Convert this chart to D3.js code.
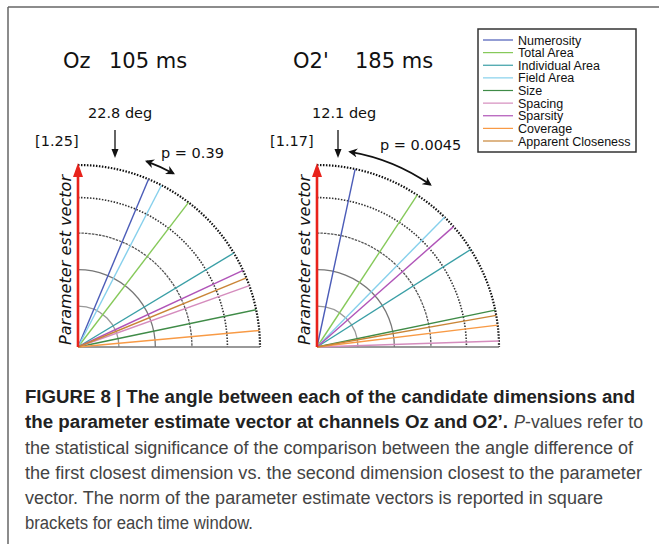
<!DOCTYPE html>
<html>
<head>
<meta charset="utf-8">
<script src="https://cdn.jsdelivr.net/npm/d3@7"></script>
<style>
  body { margin: 0; background: #fff; }
  svg { display: block; }
</style>
</head>
<body>
<svg id="chart" width="659" height="544"></svg>
<script>
// candidate dimensions, same order as the legend
var dimensions = ["Numerosity", "Total Area", "Individual Area", "Field Area", "Size",
  "Spacing", "Sparsity", "Coverage", "Apparent Closeness"];
var dimColors = ["#4b5cb8", "#86c95a", "#3a9fa6", "#86d0ec", "#3f8b47",
  "#d58cbd", "#b054b8", "#f89a45", "#c98537"];

// angle (deg) of each dimension from the parameter estimate vector
var ozAngles = [22.8, 37.4, 58.9, 27.3, 78.2, 70.3, 65.1, 84.8, 67.7];
var o2Angles = [12.1, 33.4, 57.6, 44.5, 78.3, 88.1, 48.6, 83.1, 80.0];

var channels = ["Oz", "O2'"];
var times = ["105 ms", "185 ms"];
var norms = ["[1.25]", "[1.17]"];
var pValues = ["p = 0.39", "p = 0.0045"];
var closest = ["22.8 deg", "12.1 deg"];

// rings of the quarter grid (share of the vector norm)
var rings = [0.225, 0.425, 0.626, 0.821, 1.0];

var captionLines = [
  "FIGURE 8 | The angle between each of the candidate dimensions and",
  "the parameter estimate vector at channels Oz and O2\u2019.",
  "-values refer to",
  "the statistical significance of the comparison between the angle difference of",
  "the first closest dimension vs. the second dimension closest to the parameter",
  "vector. The norm of the parameter estimate vectors is reported in square",
  "brackets for each time window."
];

var svg = d3.select("#chart");
var R = 182;
var deg = d3.scaleLinear().domain([0, 90]).range([0, Math.PI / 2]);
var rad = d3.scaleLinear().domain([0, 1]).range([0, R]);

// frame
svg.append("line").attr("x1", 8).attr("x2", 659).attr("y1", 7).attr("y2", 7)
  .attr("stroke", "#666").attr("stroke-width", 1.5);
svg.append("line").attr("x1", 8).attr("x2", 8).attr("y1", 7).attr("y2", 544)
  .attr("stroke", "#666").attr("stroke-width", 1.5);

var defs = svg.append("defs");
defs.append("marker").attr("id", "head")
  .attr("viewBox", "0 0 10 10").attr("refX", 8).attr("refY", 5)
  .attr("markerWidth", 9).attr("markerHeight", 9)
  .attr("markerUnits", "userSpaceOnUse")
  .attr("orient", "auto-start-reverse")
  .append("path").attr("d", "M0,0 L10,5 L0,10 L3,5 z").attr("fill", "#111");

function quarter(r) {
  var p = d3.path();
  p.arc(0, 0, r, -Math.PI / 2, 0, false);
  return p.toString();
}

var ringStyle = [
  { c: "#999", w: 1.3, d: null },
  { c: "#777", w: 1.3, d: null },
  { c: "#555", w: 1.3, d: "2.5,1" },
  { c: "#333", w: 1.6, d: "1.5,1.5" },
  { c: "#111", w: 2.2, d: "1.5,1.5" }
];

var panels = [
  { ox: 78, angles: ozAngles, title: [63, 109], arrowX: 37, pPos: [161, 158], degX: 88, normX: 35 },
  { ox: 317, angles: o2Angles, title: [293, 355], arrowX: 21, pPos: [380, 150], degX: 312, normX: 270 }
];
var oy = 347;

panels.forEach(function (pn, k) {
  var g = svg.append("g").attr("transform", "translate(" + pn.ox + "," + oy + ")");

  // title
  svg.append("text").attr("x", pn.title[0]).attr("y", 68)
    .attr("font-family", "DejaVu Sans").attr("font-size", 21).attr("fill", "#111")
    .text(channels[k]);
  svg.append("text").attr("x", pn.title[1]).attr("y", 68)
    .attr("font-family", "DejaVu Sans").attr("font-size", 21).attr("fill", "#111")
    .text(times[k]);

  // rings
  g.selectAll("path.ring").data(rings).enter().append("path")
    .attr("class", "ring")
    .attr("d", function (d) { return quarter(rad(d)); })
    .attr("fill", "none")
    .attr("stroke", function (d, i) { return ringStyle[i].c; })
    .attr("stroke-width", function (d, i) { return ringStyle[i].w; })
    .attr("stroke-dasharray", function (d, i) { return ringStyle[i].d; });

  // base line
  g.append("line").attr("x1", 0).attr("y1", 0).attr("x2", R).attr("y2", 0)
    .attr("stroke", "#777").attr("stroke-width", 1.6);

  // dimension lines
  g.selectAll("line.dim").data(pn.angles).enter().append("line")
    .attr("class", "dim")
    .attr("x1", 0).attr("y1", 0)
    .attr("x2", function (d) { return d3.pointRadial(deg(d), R)[0]; })
    .attr("y2", function (d) { return d3.pointRadial(deg(d), R)[1]; })
    .attr("stroke", function (d, i) { return dimColors[i]; })
    .attr("stroke-width", 1.4);

  // parameter estimate vector (red arrow)
  g.append("line").attr("x1", 0).attr("y1", 0).attr("x2", 0).attr("y2", -R + 10)
    .attr("stroke", "#e8231c").attr("stroke-width", 2.6);
  g.append("path")
    .attr("d", "M0," + (-R - 2) + " L-5," + (-R + 12) + " L5," + (-R + 12) + " z")
    .attr("fill", "#e8231c");

  svg.append("text")
    .attr("transform", "translate(" + (pn.ox - 7) + "," + (oy - 2) + ") rotate(-90)")
    .attr("font-family", "DejaVu Sans").attr("font-style", "italic")
    .attr("font-size", 16).attr("fill", "#111")
    .attr("textLength", 170).attr("lengthAdjust", "spacingAndGlyphs")
    .text("Parameter est vector");

  // norm, angle, p-value labels
  svg.append("text").attr("x", pn.normX).attr("y", 146)
    .attr("font-family", "DejaVu Sans").attr("font-size", 14.5).attr("fill", "#111")
    .text(norms[k]);
  svg.append("text").attr("x", pn.degX).attr("y", 118)
    .attr("font-family", "DejaVu Sans").attr("font-size", 14.5).attr("fill", "#111")
    .text(closest[k]);
  svg.append("text").attr("x", pn.pPos[0]).attr("y", pn.pPos[1])
    .attr("font-family", "DejaVu Sans").attr("font-size", 14.5).attr("fill", "#111")
    .text(pValues[k]);

  // down arrow to the closest dimension
  var ax = pn.ox + pn.arrowX;
  svg.append("line").attr("x1", ax).attr("x2", ax).attr("y1", 130).attr("y2", 150)
    .attr("stroke", "#111").attr("stroke-width", 1.3);
  svg.append("path")
    .attr("d", "M" + ax + ",158 L" + (ax - 3.5) + ",149 L" + (ax + 3.5) + ",149 z")
    .attr("fill", "#111");

  // double arrow between first and second closest dimensions
  var sorted = pn.angles.slice().sort(d3.ascending);
  var a0 = deg(sorted[0] - 2.5), a1 = deg(sorted[1] + 1.5);
  var p = d3.path();
  p.arc(0, 0, 198, a0 - Math.PI / 2, a1 - Math.PI / 2, false);
  g.append("path").attr("d", p.toString())
    .attr("fill", "none").attr("stroke", "#111").attr("stroke-width", 1.8)
    .attr("marker-start", "url(#head)").attr("marker-end", "url(#head)");
});

// legend
var lg = svg.append("g");
lg.append("rect").attr("x", 478).attr("y", 29).attr("width", 158).attr("height", 123)
  .attr("fill", "#fff").attr("stroke", "#333").attr("stroke-width", 1.5);
var rowY = d3.scalePoint().domain(dimensions).range([40, 141]);
var rows = lg.selectAll("g.row").data(dimensions).enter().append("g").attr("class", "row")
  .attr("transform", function (d) { return "translate(0," + rowY(d) + ")"; });
rows.append("line").attr("x1", 483).attr("x2", 513).attr("y1", 0).attr("y2", 0)
  .attr("stroke", function (d, i) { return dimColors[i]; }).attr("stroke-width", 1.2);
rows.append("text").attr("x", 518).attr("y", 4.5)
  .attr("font-family", "Liberation Sans, Arial, sans-serif").attr("font-size", 12.5)
  .attr("fill", "#111").text(function (d) { return d; });

// caption
var cap = svg.append("g").attr("font-family", "Liberation Sans, Arial, sans-serif")
  .attr("font-size", 18);
function capLine(txt, x, y, w, weight, color, style) {
  cap.append("text").attr("x", x).attr("y", y)
    .attr("font-weight", weight).attr("fill", color).attr("font-style", style || null)
    .attr("textLength", w).attr("lengthAdjust", "spacingAndGlyphs").text(txt);
}
capLine(captionLines[0], 25, 403, 610, "bold", "#222");
capLine(captionLines[1], 25, 428, 483, "bold", "#222");
capLine("P", 514, 428, 11, "normal", "#444", "italic");
capLine(captionLines[2], 525, 428, 118, "normal", "#444");
capLine(captionLines[3], 25, 454, 608, "normal", "#444");
capLine(captionLines[4], 25, 479, 617, "normal", "#444");
capLine(captionLines[5], 25, 504, 578, "normal", "#444");
capLine(captionLines[6], 25, 529, 228, "normal", "#444");
</script>
</body>
</html>
